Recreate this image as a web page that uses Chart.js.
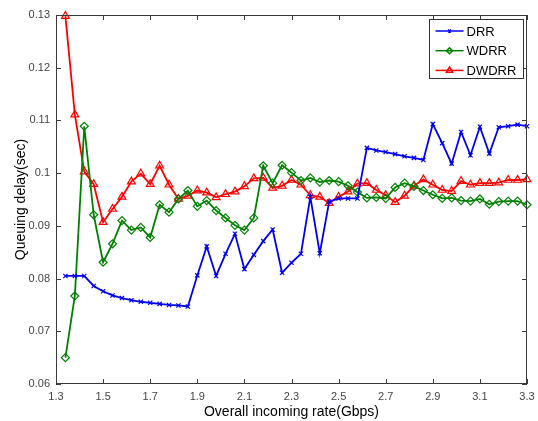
<!DOCTYPE html>
<html lang="en">
<head>
<meta charset="utf-8">
<title>Queuing delay vs incoming rate</title>
<style>
  html, body { margin: 0; padding: 0; background: #fff; }
  #wrap { width: 538px; height: 421px; }
</style>
</head>
<body>
<div id="wrap"><canvas id="chart" width="538" height="421"></canvas></div>
<script src="https://cdn.jsdelivr.net/npm/chart.js@4.4.0/dist/chart.umd.min.js"></script>
<script>
// overall incoming rate (Gbps)
const rates = [1.34, 1.38, 1.42, 1.46, 1.50, 1.54, 1.58, 1.62, 1.66, 1.70,
  1.74, 1.78, 1.82, 1.86, 1.90, 1.94, 1.98, 2.02, 2.06, 2.10,
  2.14, 2.18, 2.22, 2.26, 2.30, 2.34, 2.38, 2.42, 2.46, 2.50,
  2.54, 2.58, 2.62, 2.66, 2.70, 2.74, 2.78, 2.82, 2.86, 2.90,
  2.94, 2.98, 3.02, 3.06, 3.10, 3.14, 3.18, 3.22, 3.26, 3.30];

// queuing delay (sec)
const drr = [0.0805, 0.0805, 0.0805, 0.0786, 0.0776, 0.0768, 0.0763, 0.0759, 0.0756, 0.0754,
  0.0752, 0.0750, 0.0749, 0.0747, 0.0806, 0.0861, 0.0805, 0.0847, 0.0885, 0.0818,
  0.0845, 0.0871, 0.0893, 0.0811, 0.0830, 0.0847, 0.0955, 0.0848, 0.0946, 0.0952,
  0.0952, 0.0952, 0.1048, 0.1043, 0.1040, 0.1036, 0.1032, 0.1029, 0.1025, 0.1093,
  0.1057, 0.1018, 0.1078, 0.1034, 0.1088, 0.1037, 0.1087, 0.1089, 0.1092, 0.1089];
const wdrr = [0.0650, 0.0767, 0.1089, 0.0921, 0.0831, 0.0866, 0.0910, 0.0892, 0.0897, 0.0878,
  0.0940, 0.0926, 0.0951, 0.0967, 0.0937, 0.0948, 0.0929, 0.0915, 0.0901, 0.0892,
  0.0915, 0.1014, 0.0981, 0.1015, 0.1001, 0.0986, 0.0991, 0.0983, 0.0986, 0.0984,
  0.0976, 0.0964, 0.0953, 0.0954, 0.0952, 0.0973, 0.0981, 0.0975, 0.0967, 0.0959,
  0.0952, 0.0953, 0.0948, 0.0947, 0.0951, 0.0941, 0.0946, 0.0947, 0.0947, 0.0940];
const dwdrr = [0.1298, 0.1111, 0.1003, 0.0979, 0.0907, 0.0932, 0.0955, 0.0984, 0.0999, 0.0979,
  0.1014, 0.0978, 0.0951, 0.0957, 0.0967, 0.0963, 0.0954, 0.0960, 0.0965, 0.0975,
  0.0990, 0.0991, 0.0972, 0.0976, 0.0987, 0.0978, 0.0958, 0.0955, 0.0943, 0.0955,
  0.0965, 0.0980, 0.0981, 0.0968, 0.0958, 0.0945, 0.0957, 0.0976, 0.0988, 0.0978,
  0.0968, 0.0966, 0.0985, 0.0978, 0.0981, 0.0981, 0.0982, 0.0987, 0.0987, 0.0988];

const xTicks = [1.3, 1.5, 1.7, 1.9, 2.1, 2.3, 2.5, 2.7, 2.9, 3.1, 3.3];
const yTicks = [0.06, 0.07, 0.08, 0.09, 0.1, 0.11, 0.12, 0.13];

const FONT = "'Liberation Sans', Arial, sans-serif";
const yTitle = "Queuing delay(sec)";

const series = [
  { label: "DRR", values: drr, color: "#0000f0", style: "crossRot", r: 3 },
  { label: "WDRR", values: wdrr, color: "#008000", style: "rectRot", r: 4 },
  { label: "DWDRR", values: dwdrr, color: "#ff0000", style: "triangle", r: 4.5 },
];

// inward ticks on all four sides + box, like a matlab axes
const matlabFrame = {
  id: "matlabFrame",
  afterDatasetsDraw(chart) {
    const { ctx, chartArea: a, scales: { x, y } } = chart;
    ctx.save();
    ctx.strokeStyle = "#3a3a3a";
    ctx.lineWidth = 1;
    ctx.beginPath();
    x.ticks.forEach(t => {
      const px = Math.round(x.getPixelForValue(t.value)) + 0.5;
      ctx.moveTo(px, a.bottom); ctx.lineTo(px, a.bottom - 5);
      ctx.moveTo(px, a.top); ctx.lineTo(px, a.top + 5);
    });
    y.ticks.forEach(t => {
      const py = Math.round(y.getPixelForValue(t.value)) + 0.5;
      ctx.moveTo(a.left, py); ctx.lineTo(a.left + 5, py);
      ctx.moveTo(a.right, py); ctx.lineTo(a.right - 5, py);
    });
    ctx.stroke();
    ctx.strokeRect(Math.round(a.left) + 0.5, Math.round(a.top) + 0.5,
      Math.round(a.width) - 1, Math.round(a.height) - 1);

    // y axis title, rotated, sitting next to the tick labels
    ctx.fillStyle = "#000";
    ctx.font = "14px " + FONT;
    ctx.textAlign = "center";
    ctx.textBaseline = "middle";
    ctx.translate(21, (a.top + a.bottom) / 2);
    ctx.rotate(-Math.PI / 2);
    ctx.fillText(yTitle, 0, 0);
    ctx.restore();
  },
  afterDraw(chart) {
    // legend box in the upper right corner
    const { ctx, chartArea: a } = chart;
    const w = 94, h = 59;
    const bx = Math.round(a.right - 4 - w) + 0.5, by = Math.round(a.top + 4) + 0.5;
    ctx.save();
    ctx.fillStyle = "#fff";
    ctx.fillRect(bx, by, w, h);
    ctx.strokeStyle = "#333";
    ctx.lineWidth = 1;
    ctx.strokeRect(bx, by, w, h);
    ctx.font = "13px " + FONT;
    ctx.textBaseline = "middle";
    series.forEach((s, i) => {
      const ly = by + 11.5 + i * 19.7;
      ctx.strokeStyle = s.color;
      ctx.lineWidth = 1.5;
      ctx.beginPath();
      ctx.moveTo(bx + 6, ly); ctx.lineTo(bx + 34, ly);
      ctx.stroke();
      ctx.fillStyle = "rgba(0,0,0,0)";
      Chart.helpers.drawPoint(ctx, { pointStyle: s.style, radius: s.r - 1, rotation: 0, borderWidth: 1 }, bx + 20, ly);
      ctx.fillStyle = "#000";
      ctx.fillText(s.label, bx + 37, ly + 1);
    });
    ctx.restore();
  }
};

new Chart(document.getElementById("chart"), {
  type: "scatter",
  data: {
    datasets: series.map(s => ({
      label: s.label,
      data: rates.map((r, i) => ({ x: r, y: s.values[i] })),
      showLine: true,
      borderColor: s.color,
      backgroundColor: "rgba(0,0,0,0)",
      borderWidth: 1.8,
      pointStyle: s.style,
      pointRadius: s.r,
      pointBorderWidth: 1.2,
      pointBorderColor: s.color,
      pointBackgroundColor: "rgba(0,0,0,0)",
      clip: false,
    })),
  },
  options: {
    responsive: false,
    animation: false,
    layout: { padding: { top: 15, right: 11, left: 0, bottom: 0 } },
    plugins: { legend: { display: false }, tooltip: { enabled: false } },
    scales: {
      x: {
        type: "linear",
        min: 1.3,
        max: 3.3,
        afterBuildTicks: s => { s.ticks = xTicks.map(v => ({ value: v })); },
        afterFit: s => { s.height = 37; s.paddingLeft = 0; s.paddingRight = 0; },
        grid: { display: false, drawTicks: false },
        border: { display: false },
        ticks: { color: "#444", font: { size: 11, family: FONT }, padding: 6, maxRotation: 0, autoSkip: false, callback: v => String(v) },
        title: { display: true, text: "Overall incoming rate(Gbps)", color: "#000", font: { size: 14, family: FONT }, padding: { top: 0, bottom: 0 } },
      },
      y: {
        type: "linear",
        min: 0.06,
        max: 0.13,
        afterBuildTicks: s => { s.ticks = yTicks.map(v => ({ value: v })); },
        afterFit: s => { s.width = 56; s.paddingTop = 0; s.paddingBottom = 0; },
        grid: { display: false, drawTicks: false },
        border: { display: false },
        ticks: { color: "#444", font: { size: 11, family: FONT }, padding: 6, autoSkip: false, callback: v => String(v) },
        title: { display: false },
      },
    },
  },
  plugins: [matlabFrame],
});
</script>
</body>
</html>
